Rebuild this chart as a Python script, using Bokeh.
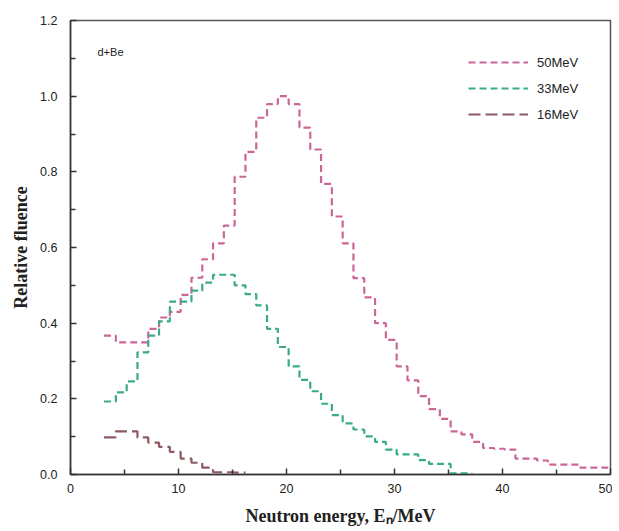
from bokeh.plotting import figure
from bokeh.models import Range1d, Legend, LegendItem, Label, FixedTicker, PrintfTickFormatter
from bokeh.embed import file_html
from bokeh.resources import INLINE

# Bin edges (MeV)
energy_edges = [3.1, 4.2, 5.2, 6.2, 7.2, 8.2, 9.2, 10.2, 11.2, 12.2, 13.2, 14.2, 15.2,
                16.2, 17.2, 18.2, 19.2, 20.2, 21.2, 22.2, 23.2, 24.2, 25.2, 26.2, 27.2,
                28.2, 29.2, 30.2, 31.2, 32.2, 33.2, 34.2, 35.2, 36.2, 37.2, 38.2, 39.2,
                40.2, 41.2, 42.2, 43.2, 44.2, 45.2, 46.2, 47.2, 48.2, 49.2, 50.0]

fluence_50 = [0.367, 0.349, 0.349, 0.349, 0.385, 0.415, 0.430, 0.475, 0.520, 0.569,
              0.611, 0.658, 0.787, 0.853, 0.943, 0.979, 1.000, 0.979, 0.917, 0.859,
              0.768, 0.682, 0.611, 0.519, 0.468, 0.400, 0.356, 0.286, 0.249, 0.207,
              0.173, 0.147, 0.114, 0.106, 0.086, 0.070, 0.068, 0.066, 0.042, 0.042,
              0.037, 0.026, 0.026, 0.026, 0.018, 0.018, 0.018]

fluence_33 = [0.193, 0.217, 0.246, 0.323, 0.367, 0.405, 0.457, 0.457, 0.486, 0.507,
              0.528, 0.528, 0.500, 0.477, 0.447, 0.385, 0.337, 0.286, 0.250, 0.220,
              0.187, 0.157, 0.135, 0.119, 0.101, 0.086, 0.066, 0.053, 0.053, 0.038,
              0.028, 0.028, 0.003, 0.003]

fluence_16 = [0.098, 0.114, 0.114, 0.098, 0.084, 0.073, 0.060, 0.042, 0.031, 0.018,
              0.006, 0.006, 0.005]

series_labels = ["50MeV", "33MeV", "16MeV"]
series_colors = ["#CC6699", "#3AAA8C", "#8C5A60"]
series_dashes = ["7 4", "7 4", "12 5"]

x_major_ticks = [0, 10, 20, 30, 40, 50]
x_minor_ticks = [5, 15, 25, 35, 45]
y_major_ticks = [0.0, 0.2, 0.4, 0.6, 0.8, 1.0, 1.2]
y_minor_ticks = [0.1, 0.3, 0.5, 0.7, 0.9, 1.1]

p = figure(width=612, height=528, x_range=Range1d(0, 50), y_range=Range1d(0, 1.2),
           output_backend="svg", toolbar_location=None,
           min_border_left=70, min_border_right=2, min_border_top=20, min_border_bottom=53)
p.xgrid.visible = False
p.ygrid.visible = False
p.outline_line_color = "#555555"
p.outline_line_width = 1.5
p.background_fill_color = "white"

p.xaxis.ticker = FixedTicker(ticks=x_major_ticks, minor_ticks=x_minor_ticks)
p.yaxis.ticker = FixedTicker(ticks=y_major_ticks, minor_ticks=y_minor_ticks)
p.yaxis.formatter = PrintfTickFormatter(format="%.1f")

for ax in (p.xaxis[0], p.yaxis[0]):
    ax.axis_line_color = "#333333"
    ax.axis_line_width = 1.5
    ax.major_tick_in = 6
    ax.major_tick_out = 0
    ax.minor_tick_in = 5
    ax.minor_tick_out = 0
    ax.major_tick_line_color = "#333333"
    ax.minor_tick_line_color = "#333333"
    ax.major_tick_line_width = 1.5
    ax.minor_tick_line_width = 1.5
    ax.major_label_text_font = "Liberation Sans"
    ax.major_label_text_font_size = "12.5px"
    ax.major_label_text_color = "#222222"
    ax.axis_label_text_font = "Liberation Serif"
    ax.axis_label_text_font_style = "bold"
    ax.axis_label_text_font_size = "18px"
    ax.axis_label_text_color = "#222222"

p.xaxis.axis_label = "Neutron energy, E\u2099/MeV"
p.yaxis.axis_label = "Relative fluence"
p.xaxis.major_label_standoff = 9
p.yaxis.major_label_standoff = 13
p.xaxis.axis_label_standoff = 10
p.yaxis.axis_label_standoff = 6

renderers = []
for vals, col, dash in zip([fluence_50, fluence_33, fluence_16], series_colors, series_dashes):
    xs = energy_edges[:len(vals) + 1]
    ys = vals + [vals[-1]]
    r = p.step(x=xs, y=ys, mode="after", line_color=col, line_width=2.2, line_dash=dash)
    renderers.append(r)

legend = Legend(items=[LegendItem(label=lab, renderers=[r]) for lab, r in zip(series_labels, renderers)],
                location=(398, 350), border_line_color=None, background_fill_alpha=0,
                glyph_width=60, glyph_height=20, label_height=20, spacing=6, padding=0, margin=0,
                label_standoff=9, label_text_font="Liberation Sans", label_text_font_size="13px",
                label_text_color="#222222")
p.add_layout(legend)

p.add_layout(Label(x=2.5, y=1.116, text="d+Be", text_font="Liberation Sans",
                   text_font_size="11px", text_baseline="middle", text_color="#222222"))

open("out.html", "w").write(file_html(p, INLINE))
